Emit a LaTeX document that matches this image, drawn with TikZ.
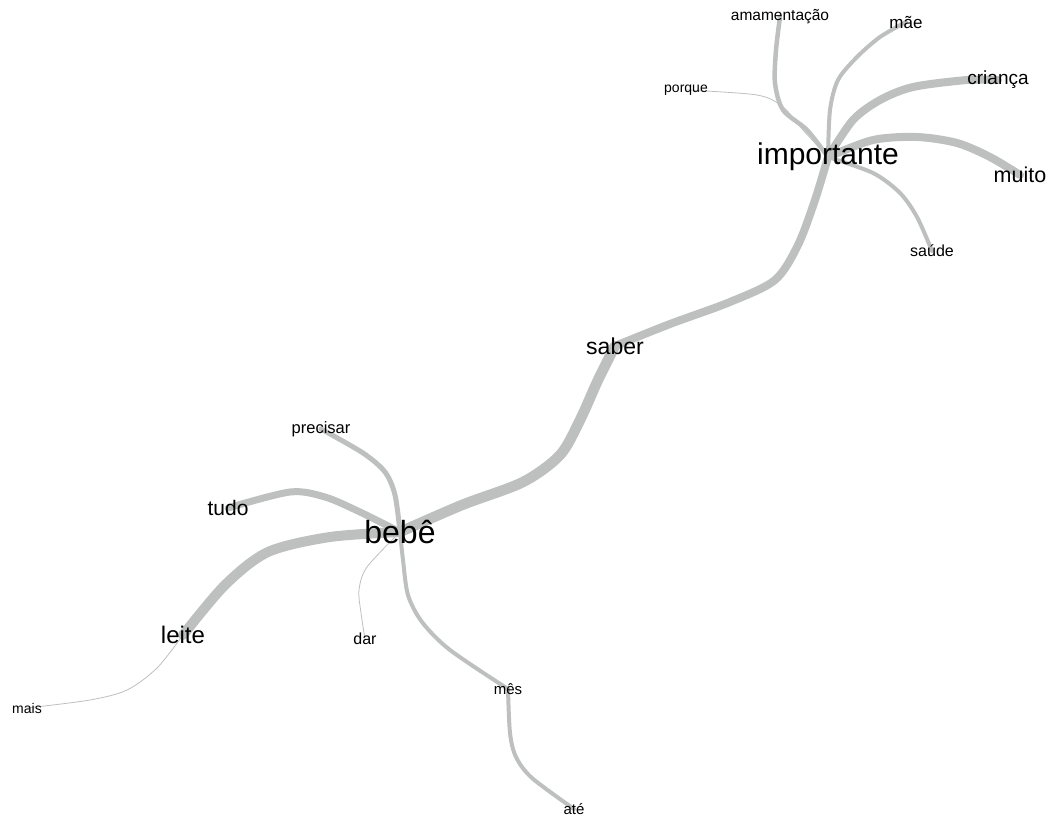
\documentclass[tikz,border=0pt]{standalone}
\usepackage{fontspec}
\setmainfont{Liberation Sans}
\usetikzlibrary{backgrounds}
\definecolor{edgegray}{RGB}{190,192,192}
\tikzset{
  word/.style={inner sep=0pt, text=black},
  fs/.style={font=\fontsize{#1}{#1}\selectfont},
  link/.style={draw=edgegray, line cap=round, line join=round},
}
\begin{document}
\begin{tikzpicture}[x=1pt,y=-1pt]
\useasboundingbox (0,0) rectangle (1048,818);
% words
\node[word,fs=30] (imp) at (828,157) {importante};
\node[word,fs=15.5] (ama) at (780,17) {amamentação};
\node[word,fs=17] (mae) at (906,22) {mãe};
\node[word,fs=19] (cri) at (998,80) {criança};
\node[word,fs=14] (por) at (686,90) {porque};
\node[word,fs=21.5] (mui) at (1020,175) {muito};
\node[word,fs=16] (sau) at (932,251) {saúde};
\node[word,fs=23] (sab) at (615,346) {saber};
\node[word,fs=32] (beb) at (400,532) {bebê};
\node[word,fs=16.5] (pre) at (321,429) {precisar};
\node[word,fs=21] (tud) at (228,508) {tudo};
\node[word,fs=24] (lei) at (183,635) {leite};
\node[word,fs=16] (dar) at (365,639) {dar};
\node[word,fs=15] (mes) at (508,689) {mês};
\node[word,fs=15] (ate) at (574,809) {até};
\node[word,fs=14] (mai) at (27,708) {mais};
% links
\begin{pgfonlayer}{background}
\fill[white] (0,0) rectangle (1048,818);
\draw[link, line width=8pt] plot[smooth] coordinates {(imp.center) (815,200) (798,245) (775,280) (730,302) (670,324) (sab.center)};
\draw[link, line width=10.5pt] plot[smooth] coordinates {(sab.center) (598,380) (580,420) (560,455) (523,482) (462,505) (beb.center)};
\draw[link, line width=10pt] plot[smooth] coordinates {(beb.center) (330,537) (268,552) (225,585) (lei.center)};
\draw[link, line width=7pt] plot[smooth] coordinates {(beb.center) (360,512) (325,497) (290,492) (tud.center)};
\draw[link, line width=5pt] plot[smooth] coordinates {(beb.center) (395,495) (385,472) (363,453) (pre.center)};
\draw[link, line width=4pt] plot[smooth] coordinates {(beb.center) (403,560) (408,595) (422,622) (450,650) (mes.center)};
\draw[link, line width=4pt] plot[smooth] coordinates {(mes.center) (510,733) (516,757) (532,778) (ate.center)};
\draw[link, line width=0.8pt] plot[smooth] coordinates {(beb.center) (367,567) (359,590) (361,613) (dar.center)};
\draw[link, line width=0.8pt] plot[smooth] coordinates {(lei.center) (157,668) (127,690) (90,700) (mai.center)};
\draw[link, line width=4.5pt] plot[smooth] coordinates {(imp.center) (807,130) (783,110) (775,83) (776,50) (ama.center)};
\draw[link, line width=0.8pt] plot[smooth] coordinates {(imp.center) (803,130) (783,107) (757,95) (por.center)};
\draw[link, line width=4pt] plot[smooth] coordinates {(imp.center) (830,110) (838,80) (857,57) (880,37) (mae.center)};
\draw[link, line width=8pt] plot[smooth] coordinates {(imp.center) (853,120) (880,100) (913,87) (967,80) (cri.center)};
\draw[link, line width=8pt] plot[smooth] coordinates {(imp.center) (873,140) (917,137) (957,143) (990,157) (mui.center)};
\draw[link, line width=4pt] plot[smooth] coordinates {(imp.center) (873,173) (900,193) (917,217) (sau.center)};
\end{pgfonlayer}
\end{tikzpicture}
\end{document}
